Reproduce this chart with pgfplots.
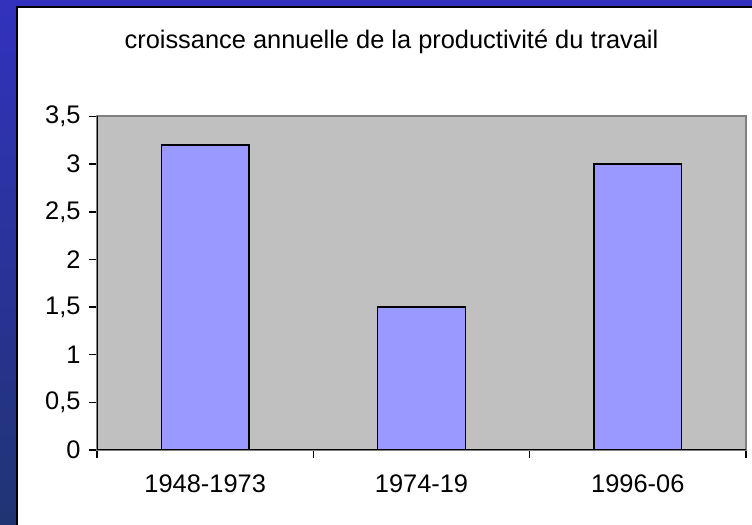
\documentclass[border=0pt]{standalone}
\usepackage{pgfplots}
\pgfplotsset{compat=1.18}
\usepackage{fontspec}
\setmainfont{Liberation Sans}

\definecolor{slidetop}{RGB}{50,50,190}
\definecolor{slidebot}{RGB}{32,52,115}
\definecolor{plotgray}{RGB}{192,192,192}
\definecolor{framegray}{RGB}{128,128,128}
\definecolor{barblue}{RGB}{153,153,255}

\begin{document}
\begin{tikzpicture}[x=1bp,y=1bp]
  \useasboundingbox (0,0) rectangle (752,525);
  % slide background and white panel
  \shade[top color=slidetop, bottom color=slidebot] (0,0) rectangle (752,525);
  \fill[white] (17,0) rectangle (752,518);
  \draw[black, line width=2bp] (17,-5) -- (17,518) -- (760,518);

  \node[anchor=base, font=\fontsize{25.5}{30}\selectfont] at (391.5,476)
    {croissance annuelle de la productivité du travail};

  \begin{axis}[
      at={(97bp,75bp)}, anchor=south west,
      width=649bp, height=333.5bp, scale only axis,
      xmin=-0.5, xmax=2.5, ymin=0, ymax=3.5,
      axis background/.style={fill=plotgray},
      axis line style={draw=framegray, line width=2bp},
      tick align=outside, tick pos=left,
      major tick length=8bp,
      tick style={black, line width=1.5bp},
      xtick={-0.5,0.5,1.5,2.5}, xticklabels={},
      extra x ticks={0,1,2},
      extra x tick labels={1948-1973,1974-19,1996-06},
      extra x tick style={grid=none, major tick length=0pt,
        xticklabel style={yshift=-21bp}},
      ytick={0,0.5,1,1.5,2,2.5,3,3.5},
      yticklabel style={xshift=-5bp},
      ticklabel style={font=\fontsize{25.5}{30}\selectfont},
      /pgf/number format/use comma,
      /pgf/number format/assume math mode=true,
    ]
    \addplot[ybar, bar width=0.405, fill=barblue, draw=black, line width=1.5bp]
      coordinates {(0,3.2) (1,1.5) (2,3.0)};
    \draw[black, line width=2bp] (axis cs:-0.5,3.5) -- (axis cs:-0.5,0) -- (axis cs:2.5,0);
  \end{axis}
\end{tikzpicture}
\end{document}
